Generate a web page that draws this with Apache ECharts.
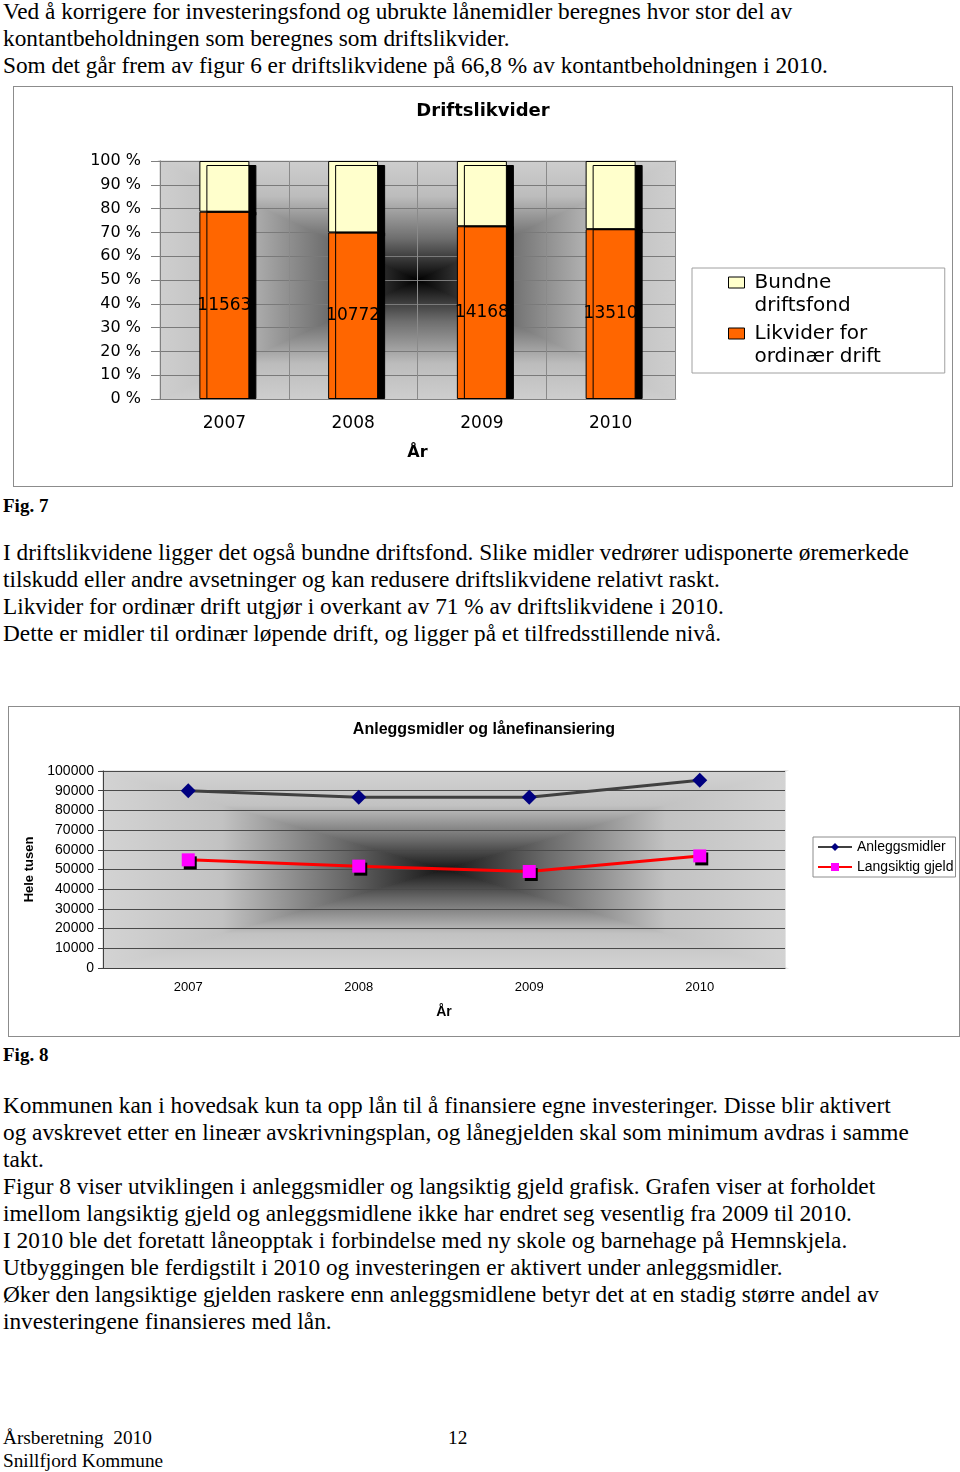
<!DOCTYPE html>
<html><head><meta charset="utf-8">
<script src="https://cdn.jsdelivr.net/npm/echarts@6/dist/echarts.min.js"></script>
<style>
html,body{margin:0;padding:0;background:#fff}
body{width:960px;height:1472px;position:relative;overflow:hidden;font-family:"Liberation Serif","Times New Roman",serif;font-size:23.3px;color:#000}
.t{position:absolute;left:3px;line-height:27px;white-space:nowrap}
.f{position:absolute;left:3px;font-weight:bold;font-size:19px;line-height:20px}
.foot{position:absolute;font-size:19.3px;line-height:23px;white-space:nowrap}
.chart{position:absolute;border:1px solid #8c8c8c}
</style></head><body>
<div class="t" style="top:-2px">Ved å korrigere for investeringsfond og ubrukte lånemidler beregnes hvor stor del av<br>kontantbeholdningen som beregnes som driftslikvider.<br>Som det går frem av figur 6 er driftslikvidene på 66,8 % av kontantbeholdningen i 2010.</div>
<div id="c1" class="chart" style="left:13px;top:86px;width:938px;height:399px"></div>
<div class="f" style="top:496px">Fig. 7</div>
<div class="t" style="top:539px">I driftslikvidene ligger det også bundne driftsfond. Slike midler vedrører udisponerte øremerkede<br>tilskudd eller andre avsetninger og kan redusere driftslikvidene relativt raskt.<br>Likvider for ordinær drift utgjør i overkant av 71 % av driftslikvidene i 2010.<br>Dette er midler til ordinær løpende drift, og ligger på et tilfredsstillende nivå.</div>
<div id="c2" class="chart" style="left:8px;top:706px;width:950px;height:329px"></div>
<div class="f" style="top:1045px">Fig. 8</div>
<div class="t" style="top:1092px">Kommunen kan i hovedsak kun ta opp lån til å finansiere egne investeringer. Disse blir aktivert<br>og avskrevet etter en lineær avskrivningsplan, og lånegjelden skal som minimum avdras i samme<br>takt.<br>Figur 8 viser utviklingen i anleggsmidler og langsiktig gjeld grafisk. Grafen viser at forholdet<br>imellom langsiktig gjeld og anleggsmidlene ikke har endret seg vesentlig fra 2009 til 2010.<br>I 2010 ble det foretatt låneopptak i forbindelse med ny skole og barnehage på Hemnskjela.<br>Utbyggingen ble ferdigstilt i 2010 og investeringen er aktivert under anleggsmidler.<br>Øker den langsiktige gjelden raskere enn anleggsmidlene betyr det at en stadig større andel av<br>investeringene finansieres med lån.</div>
<div class="foot" style="left:3px;top:1426px">Årsberetning&nbsp; 2010<br>Snillfjord Kommune</div>
<div class="foot" style="left:448px;top:1426px">12</div>
<script>
// ---- Data: Fig. 7 Driftslikvider ----
const years = ['2007', '2008', '2009', '2010'];
const likviderOrdinaer = [11563, 10772, 14168, 13510];   // label values (orange)
const bundneDriftsfond = [3130, 4620, 5350, 5420];       // (yellow)
const legend1Names = ['Bundne driftsfond', 'Likvider for ordinær drift'];
const legend1Lines = { 'Bundne driftsfond': 'Bundne\ndriftsfond', 'Likvider for ordinær drift': 'Likvider for\nordinær drift' };

// ---- Data: Fig. 8 Anleggsmidler og lånefinansiering ----
const anleggsmidler = [90000, 86700, 86700, 95300];
const langsiktigGjeld = [54900, 51700, 49000, 56900];

function centerGradient(chart, stops) {
  const r = chart.getModel().getComponent('grid', 0).coordinateSystem.getRect();
  const x = r.x, y = r.y, w = r.width, h = r.height, cx = x + w / 2, cy = y + h / 2;
  const g = (x0, y0, x2, y2) => ({ type: 'linear', x: x0, y: y0, x2: x2, y2: y2,
    colorStops: stops.map(s => ({ offset: s[0], color: s[1] })) });
  const mk = (pts, fill) => ({ type: 'polygon', silent: true, z: -10,
    shape: { points: pts }, style: { fill: fill, stroke: fill, lineWidth: 1.2 } });
  return [
    mk([[x, y], [x + w, y], [cx, cy]], g(0, 0, 0, 1)),
    mk([[x, y + h], [x + w, y + h], [cx, cy]], g(0, 1, 0, 0)),
    mk([[x, y], [x, y + h], [cx, cy]], g(0, 0, 1, 0)),
    mk([[x + w, y], [x + w, y + h], [cx, cy]], g(1, 0, 0, 0))
  ];
}

// ---------- Chart 1 ----------
const totals = likviderOrdinaer.map((v, i) => v + bundneDriftsfond[i]);
const pctLikvider = likviderOrdinaer.map((v, i) => v / totals[i] * 100);
const pctBundne = bundneDriftsfond.map((v, i) => v / totals[i] * 100);
const font1 = '"DejaVu Sans", Arial, sans-serif';

const c1 = echarts.init(document.getElementById('c1'));
c1.setOption({
  animation: false,
  textStyle: { fontFamily: font1 },
  title: { text: 'Driftslikvider', left: 'center', top: 10,
    textStyle: { fontFamily: font1, fontWeight: 'bold', fontSize: 18, color: '#000' } },
  grid: { left: 146, right: 277, top: 74, bottom: 87 },
  legend: {
    data: legend1Names, orient: 'vertical', left: 678, top: 181,
    padding: [3, 64, 5, 36], itemGap: 5, itemWidth: 16, itemHeight: 34,
    // square icon sitting on the first text line (extra move-to extends the icon box downward)
    icon: 'path://M0,0L16,0L16,11L0,11Z M0,34',
    backgroundColor: '#fff', borderColor: '#a0a0a0', borderWidth: 1,
    itemStyle: { borderColor: '#000', borderWidth: 1, shadowColor: 'rgba(0,0,0,0)', shadowOffsetX: 0, shadowOffsetY: 0 },
    formatter: n => legend1Lines[n],
    textStyle: { fontFamily: font1, fontSize: 20, lineHeight: 23, color: '#000', padding: [0, 0, 0, 5] }
  },
  xAxis: {
    type: 'category', data: years, name: 'År', nameLocation: 'middle', nameGap: 46,
    nameTextStyle: { fontFamily: font1, fontWeight: 'bold', fontSize: 16, color: '#000' },
    axisLine: { lineStyle: { color: '#808080' } },
    axisTick: { length: 7, lineStyle: { color: '#808080' } },
    splitLine: { show: true, lineStyle: { color: '#8a8a8a' } },
    axisLabel: { margin: 16, fontSize: 17, color: '#000' }
  },
  yAxis: {
    type: 'value', min: 0, max: 100, interval: 10,
    axisLine: { show: true, lineStyle: { color: '#808080' } },
    axisTick: { show: true, length: 9, lineStyle: { color: '#808080' } },
    splitLine: { lineStyle: { color: '#7a7a7a' } },
    axisLabel: { margin: 19, fontSize: 16, color: '#000', formatter: '{value} %' }
  },
  series: [
    { name: 'Likvider for ordinær drift', type: 'bar', stack: 'a', barWidth: 50, z: 3,
      data: pctLikvider,
      itemStyle: { color: '#ff6600', borderColor: '#000', borderWidth: 1,
        shadowColor: '#000', shadowOffsetX: 7, shadowOffsetY: 0, shadowBlur: 0 },
      label: { show: true, position: 'inside', color: '#000', fontSize: 17, fontFamily: font1,
        formatter: p => String(likviderOrdinaer[p.dataIndex]) } },
    { name: 'Bundne driftsfond', type: 'bar', stack: 'a', barWidth: 50, z: 2,
      data: pctBundne,
      itemStyle: { color: '#ffffcc', borderColor: '#000', borderWidth: 1,
        shadowColor: '#000', shadowOffsetX: 7, shadowOffsetY: 4, shadowBlur: 0 } }
  ]
});
c1.setOption({ graphic: centerGradient(c1, [[0, '#cecece'], [0.3, '#bcbcbc'], [0.65, '#6e6e6e'], [1, '#000000']]) });

// ---------- Chart 2 ----------
const font2 = '"Liberation Sans", Arial, sans-serif';
const c2 = echarts.init(document.getElementById('c2'));
c2.setOption({
  animation: false,
  textStyle: { fontFamily: font2 },
  title: { text: 'Anleggsmidler og lånefinansiering', left: 'center', top: 10,
    textStyle: { fontFamily: font2, fontWeight: 'bold', fontSize: 16, color: '#000' } },
  grid: { left: 94, right: 174, top: 64, bottom: 68 },
  legend: {
    data: ['Anleggsmidler', 'Langsiktig gjeld'], orient: 'vertical', left: 804, top: 130,
    padding: [3, 2, 3, 4], itemGap: 6, itemWidth: 34, itemHeight: 10,
    backgroundColor: '#fff', borderColor: '#8c8c8c', borderWidth: 1,
    textStyle: { fontFamily: font2, fontSize: 14, color: '#000' }
  },
  xAxis: {
    type: 'category', data: years, name: 'År', nameLocation: 'middle', nameGap: 37,
    nameTextStyle: { fontFamily: font2, fontWeight: 'bold', fontSize: 14, color: '#000' },
    axisLine: { lineStyle: { color: '#404040' } },
    axisTick: { length: 5, lineStyle: { color: '#404040' } },
    axisLabel: { margin: 13, fontSize: 13, color: '#000' }
  },
  yAxis: {
    type: 'value', min: 0, max: 100000, interval: 10000,
    name: 'Hele tusen', nameLocation: 'middle', nameGap: 64, nameRotate: 90,
    nameTextStyle: { fontFamily: font2, fontWeight: 'bold', fontSize: 13, color: '#000' },
    axisLine: { show: true, lineStyle: { color: '#404040' } },
    axisTick: { show: true, length: 5, lineStyle: { color: '#404040' } },
    splitLine: { lineStyle: { color: '#4a4a4a' } },
    axisLabel: { margin: 9, fontSize: 14, color: '#000', formatter: v => String(v) }
  },
  series: [
    { name: 'Anleggsmidler', type: 'line', data: anleggsmidler,
      symbol: 'diamond', symbolSize: 15,
      lineStyle: { color: '#404040', width: 3 },
      itemStyle: { color: '#000080' } },
    { name: 'Langsiktig gjeld', type: 'line', data: langsiktigGjeld,
      symbol: 'rect', symbolSize: 13,
      lineStyle: { color: '#ff0000', width: 3 },
      itemStyle: { color: '#ff00ff', shadowColor: '#000', shadowOffsetX: 2, shadowOffsetY: 3, shadowBlur: 0 } }
  ]
});
c2.setOption({ graphic: centerGradient(c2, [[0, '#d3d3d3'], [0.35, '#c2c2c2'], [0.7, '#6a6a6a'], [1, '#151515']]) });
</script>
</body></html>
